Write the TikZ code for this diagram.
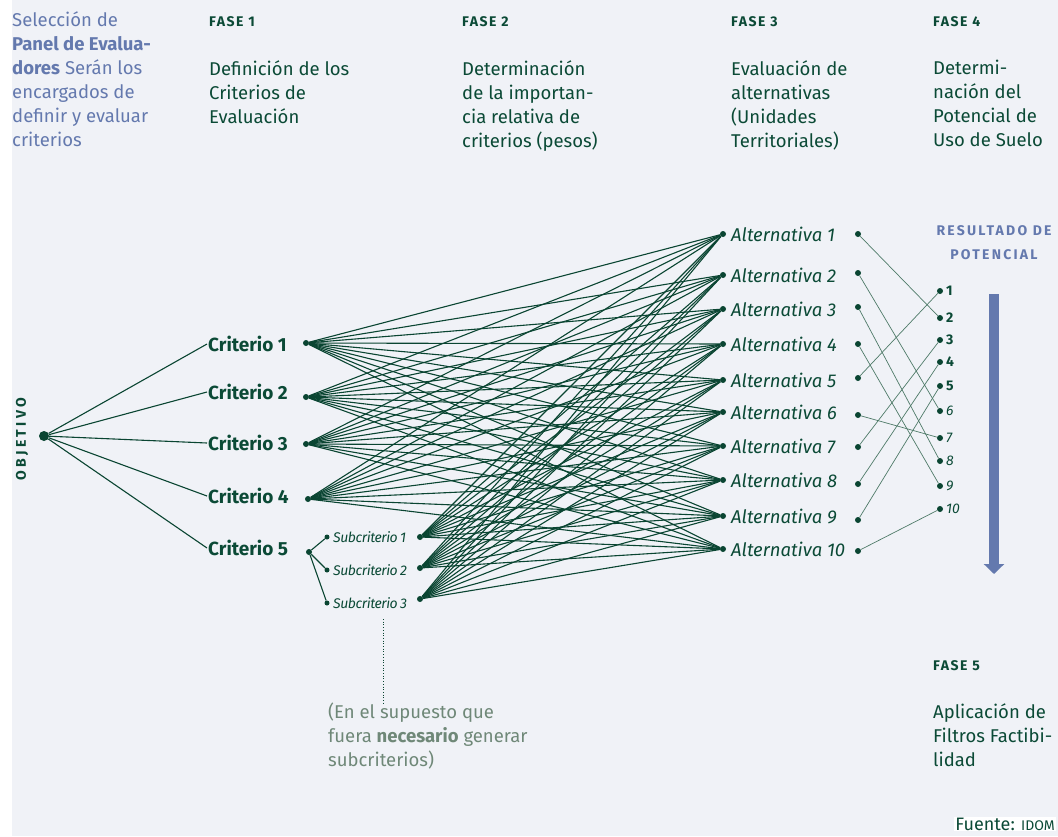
\documentclass[tikz,border=0pt]{standalone}
\usepackage{fontspec}
\setmainfont{Fira Sans}
\usepackage{xcolor}
\usetikzlibrary{arrows.meta}

\definecolor{fondo}{HTML}{F0F2F7}
\definecolor{verde}{HTML}{0B4A36}
\definecolor{linea}{HTML}{0A4532}
\definecolor{azul}{HTML}{6479AE}
\definecolor{nota}{HTML}{6F8878}
\definecolor{fina}{HTML}{4E7A68}

\begin{document}
\begin{tikzpicture}[x=1pt, y=-1pt,
  punto/.style={circle, fill=linea, inner sep=0pt, minimum size=6pt},
  enlace/.style={draw=linea, line width=1.1pt}]
\tikzstyle{fase} = [anchor=base west, inner sep=0pt, text=verde, font=\fontsize{14}{24}\selectfont\bfseries\addfontfeatures{LetterSpace=11}]
\tikzstyle{desc} = [anchor=north west, inner sep=0pt, align=left, text=verde, font=\fontsize{18.5}{24}\selectfont]
\tikzstyle{crit} = [anchor=west, inner sep=1pt, text=verde, font=\fontsize{19}{20}\selectfont\bfseries]
\tikzstyle{alt} = [anchor=west, inner sep=0pt, text=verde, font=\fontsize{18.5}{20}\selectfont\itshape]
\tikzstyle{sub} = [anchor=west, inner sep=0pt, text=verde, font=\fontsize{14}{14}\selectfont\itshape\addfontfeatures{LetterSpace=-3}]
\tikzstyle{rango} = [anchor=west, inner sep=0pt, text=verde, font=\fontsize{14}{14}\selectfont]

\useasboundingbox (0,0) rectangle (1058,836);
\fill[fondo] (12,0) rectangle (1058,836);

% encabezados de las fases
\node[desc, text=azul] (panel) at (12,11) {Selección de\\ \textbf{Panel de Evalua-}\\ \textbf{dores} Serán los\\ encargados de\\ definir y evaluar\\ criterios};
\node[fase] (f1) at (209,26) {FASE 1};
\node[fase] (f2) at (462,26) {FASE 2};
\node[fase] (f3) at (731,26) {FASE 3};
\node[fase] (f4) at (933,26) {FASE 4};
\node[desc] (d1) at (209,60) {Definición de los\\ Criterios de\\ Evaluación};
\node[desc] (d2) at (462,60) {Determinación\\ de la importan-\\ cia relativa de\\ criterios (pesos)};
\node[desc] (d3) at (731,60) {Evaluación de\\ alternativas\\ (Unidades\\ Territoriales)};
\node[desc] (d4) at (933,60) {Determi-\\ nación del\\ Potencial de\\ Uso de Suelo};
\node[fase] (f5) at (933,670) {FASE 5};
\node[desc] (d5) at (933,703) {Aplicación de\\ Filtros Factibi-\\ lidad};

% objetivo y criterios
\node[punto, minimum size=10pt] (obj) at (44,436) {};
\node[fase, anchor=center, rotate=90, font=\fontsize{14}{14}\selectfont\bfseries\addfontfeatures{LetterSpace=24}] (objlabel) at (22,439) {OBJETIVO};
\foreach \i/\y/\yp/\xp in {1/344/343/306, 2/392/397/306, 3/443/444/306, 4/496/499/308, 5/548/552/309} {
  \node[crit] (c\i) at (207,\y) {Criterio \i};
  \node[punto] (cp\i) at (\xp,\yp) {};
  \draw[enlace] (obj) -- (c\i.west);
}

% subcriterios
\foreach \i/\y/\yd in {1/537/537, 2/570/568, 3/603/599} {
  \node[punto, minimum size=5pt] (sl\i) at (327,\y) {};
  \node[sub] (s\i) at (333,\y) {Subcriterio\,\i};
  \node[punto] (sd\i) at (420,\yd) {};
  \draw[enlace] (cp5) -- (sl\i);
}

% alternativas
\foreach \i/\yl/\yr in {1/234/234, 2/275/273, 3/309/307, 4/344/344, 5/380/378, 6/412/415, 7/446/447, 8/480/484, 9/516/520, 10/549/551} {
  \node[punto] (al\i) at (723,\yl) {};
  \node[alt] (a\i) at (731,\yl) {Alternativa \i};
  \node[punto] (ar\i) at (858,\yr) {};
}
\foreach \s in {cp1,cp2,cp3,cp4,sd1,sd2,sd3}
  \foreach \a in {1,...,10}
    \draw[enlace] (\s) -- (al\a);

% resultado de potencial
\node[fase, anchor=north, align=center, text=azul, font=\fontsize{14}{24}\selectfont\bfseries\addfontfeatures{LetterSpace=16}] (res) at (994,225) {RESULTADO DE\\ POTENCIAL};
\foreach \r/\y in {1/291, 2/318, 3/340, 4/362, 5/386} {
  \node[punto] (r\r) at (940,\y) {};
  \node[rango, font=\fontsize{14}{14}\selectfont\bfseries] (rl\r) at (946,\y) {\r};
}
\foreach \r/\y in {6/411, 7/438, 8/461, 9/486, 10/509} {
  \node[punto] (r\r) at (940,\y) {};
  \node[rango, font=\fontsize{14}{14}\selectfont\itshape] (rl\r) at (946,\y) {\r};
}
\foreach \a/\r in {1/2, 2/6, 3/8, 4/9, 5/1, 6/7, 7/3, 8/4, 9/5, 10/10}
  \draw[draw=fina, line width=0.7pt] (ar\a) -- (r\r);

\coordinate (flechaA) at (994,294);
\coordinate (flechaB) at (994,574);
\draw[azul, line width=10pt, -{Triangle[width=20pt, length=10pt]}] (flechaA) -- (flechaB);

% nota de subcriterios
\node[desc, text=nota] (nota) at (328,703) {(En el supuesto que\\ fuera \textbf{necesario} generar\\ subcriterios)};
\coordinate (guia) at (383,619);
\draw[linea, dotted, line width=0.7pt] (guia) -- (guia |- nota.north);

\node[anchor=base east, inner sep=1pt, fill=white, text=verde, font=\fontsize{18}{18}\selectfont] (fuente) at (1056,830) {Fuente: {\fontsize{14}{14}\selectfont IDOM}};
\end{tikzpicture}
\end{document}
